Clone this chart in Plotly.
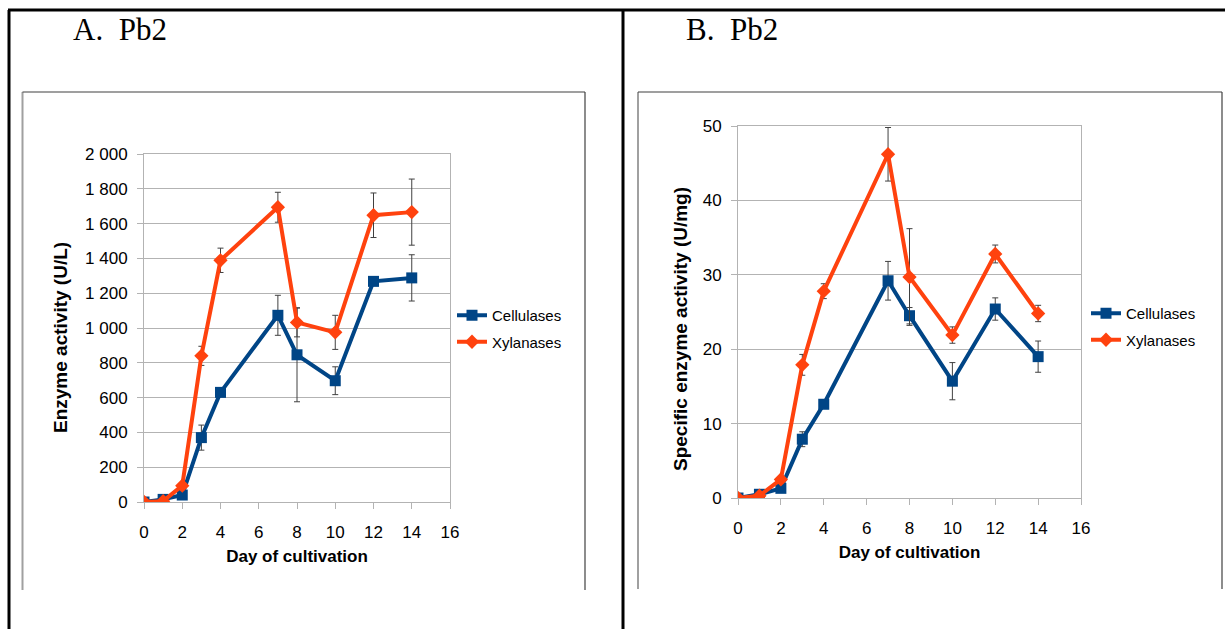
import plotly.graph_objects as go

W, H = 1225, 629

days = [0, 1, 2, 3, 4, 7, 8, 10, 12, 14]

# Panel A: enzyme activity (U/L)
a_cellulases = [0, 15, 40, 370, 630, 1073, 846, 697, 1268, 1288]
a_cellulases_err = [5, 10, 15, 72, 20, 115, 270, 80, 20, 133]
a_xylanases = [0, 5, 94, 840, 1389, 1694, 1032, 975, 1648, 1666]
a_xylanases_err = [5, 10, 15, 55, 70, 86, 83, 98, 128, 190]

# Panel B: specific enzyme activity (U/mg)
b_cellulases = [0, 0.5, 1.3, 7.9, 12.6, 29.2, 24.5, 15.7, 25.4, 19.0]
b_cellulases_err = [0.1, 0.2, 0.3, 1.0, 0.5, 2.6, 1.1, 2.5, 1.5, 2.1]
b_xylanases = [0, 0.3, 2.5, 17.9, 27.8, 46.2, 29.7, 21.9, 32.8, 24.8]
b_xylanases_err = [0.1, 0.1, 0.3, 1.4, 1.0, 3.6, 6.5, 1.1, 1.2, 1.1]

x_ticks = [0, 2, 4, 6, 8, 10, 12, 14, 16]
a_y_ticks = [0, 200, 400, 600, 800, 1000, 1200, 1400, 1600, 1800, 2000]
a_y_ticktext = ["0", "200", "400", "600", "800", "1 000", "1 200", "1 400", "1 600", "1 800", "2 000"]
b_y_ticks = [0, 10, 20, 30, 40, 50]

BLUE = "#004586"
ORANGE = "#FF420E"
GRID = "#B3B3B3"
ERR = "#404040"
FONT = "Liberation Sans, Arial, sans-serif"


def px(x):
    return x / W


def py(y):
    return 1 - y / H


fig = go.Figure()


def add_series(x, y, err, name, color, symbol, size, xa, ya, legend):
    fig.add_trace(go.Scatter(
        x=x, y=y, name=name, mode="lines+markers",
        line=dict(color=color, width=4),
        marker=dict(color=color, symbol=symbol, size=size),
        error_y=dict(type="data", array=err, visible=True, color=ERR, thickness=1, width=3),
        xaxis=xa, yaxis=ya, legend=legend, legendgroup=legend + name,
    ))


add_series(days, a_cellulases, a_cellulases_err, "Cellulases", BLUE, "square", 11, "x", "y", "legend")
add_series(days, a_xylanases, a_xylanases_err, "Xylanases", ORANGE, "diamond", 11, "x", "y", "legend")
add_series(days, b_cellulases, b_cellulases_err, "Cellulases", BLUE, "square", 11, "x2", "y2", "legend2")
add_series(days, b_xylanases, b_xylanases_err, "Xylanases", ORANGE, "diamond", 11, "x2", "y2", "legend2")

axis_common = dict(
    showline=True, linecolor=GRID, linewidth=1, mirror=True,
    ticks="outside", ticklen=6, tickcolor=GRID,
    tickfont=dict(family=FONT, size=17, color="black"),
    zeroline=False, automargin=False,
)

xa = dict(axis_common, range=[0, 16], tickvals=x_ticks, showgrid=False,
          title=dict(text="<b>Day of cultivation</b>", font=dict(family=FONT, size=17, color="black"), standoff=8),
          ticklabelstandoff=9)

fig.update_layout(
    width=W, height=H,
    margin=dict(l=0, r=0, t=0, b=0, pad=0, autoexpand=False),
    paper_bgcolor="white", plot_bgcolor="white",
    showlegend=True,
    xaxis=dict(xa, domain=[px(144), px(450)], anchor="y"),
    yaxis=dict(axis_common, domain=[py(502), py(154)], anchor="x", range=[0, 2000],
               tickvals=a_y_ticks, ticktext=a_y_ticktext, showgrid=True, gridcolor=GRID,
               ticklabelstandoff=6),
    xaxis2=dict(xa, domain=[px(738), px(1081)], anchor="y2"),
    yaxis2=dict(axis_common, domain=[py(498), py(126)], anchor="x2", range=[0, 50],
                tickvals=b_y_ticks, showgrid=True, gridcolor=GRID,
                ticklabelstandoff=6),
    legend=dict(x=px(452), y=py(299), xanchor="left", yanchor="top",
                font=dict(family=FONT, size=15, color="black"),
                bgcolor="rgba(0,0,0,0)", traceorder="grouped", tracegroupgap=4),
    legend2=dict(x=px(1086), y=py(297), xanchor="left", yanchor="top",
                 font=dict(family=FONT, size=15, color="black"),
                 bgcolor="rgba(0,0,0,0)", traceorder="grouped", tracegroupgap=4),
)

shapes = [
    # outer table lines
    dict(type="line", x0=px(8), x1=1, y0=py(10), y1=py(10), line=dict(color="black", width=3)),
    dict(type="line", x0=px(9), x1=px(9), y0=py(10), y1=0, line=dict(color="black", width=3)),
    dict(type="line", x0=px(623), x1=px(623), y0=py(10), y1=0, line=dict(color="black", width=3)),
    # chart A frame
    dict(type="line", x0=px(22.5), x1=px(22.5), y0=py(92), y1=py(590), line=dict(color="#A0A0A0", width=2)),
    dict(type="line", x0=px(22.5), x1=px(585), y0=py(92), y1=py(92), line=dict(color="#404040", width=1.2)),
    dict(type="line", x0=px(585), x1=px(585), y0=py(92), y1=py(590), line=dict(color="#404040", width=1.2)),
    # chart B frame
    dict(type="line", x0=px(638), x1=px(638), y0=py(92), y1=py(589), line=dict(color="#A0A0A0", width=2)),
    dict(type="line", x0=px(638), x1=px(1222), y0=py(92), y1=py(92), line=dict(color="#404040", width=1.2)),
    dict(type="line", x0=px(1222), x1=px(1222), y0=py(92), y1=py(589), line=dict(color="#404040", width=1.2)),
]
for s in shapes:
    s.update(xref="paper", yref="paper")
fig.update_layout(shapes=shapes)

for text, x0 in [("A.  Pb2", 71), ("B.  Pb2", 684)]:
    fig.add_annotation(text=text, x=px(x0), y=py(30), xref="paper", yref="paper",
                       xanchor="left", yanchor="middle", showarrow=False,
                       font=dict(family="Liberation Serif, Times New Roman, serif", size=31, color="black"))

# y-axis titles
for text, xc, yc in [("<b>Enzyme activity (U/L)</b>", 60, 338),
                     ("<b>Specific enzyme activity (U/mg)</b>", 680, 329)]:
    fig.add_annotation(text=text, x=px(xc), y=py(yc), xref="paper", yref="paper",
                       xanchor="center", yanchor="middle", textangle=-90, showarrow=False,
                       font=dict(family=FONT, size=19, color="black"))

fig.write_html(
    "out.html",
    config={"displayModeBar": False},
    post_script="document.body.style.margin='0';document.body.style.overflow='hidden';",
)
